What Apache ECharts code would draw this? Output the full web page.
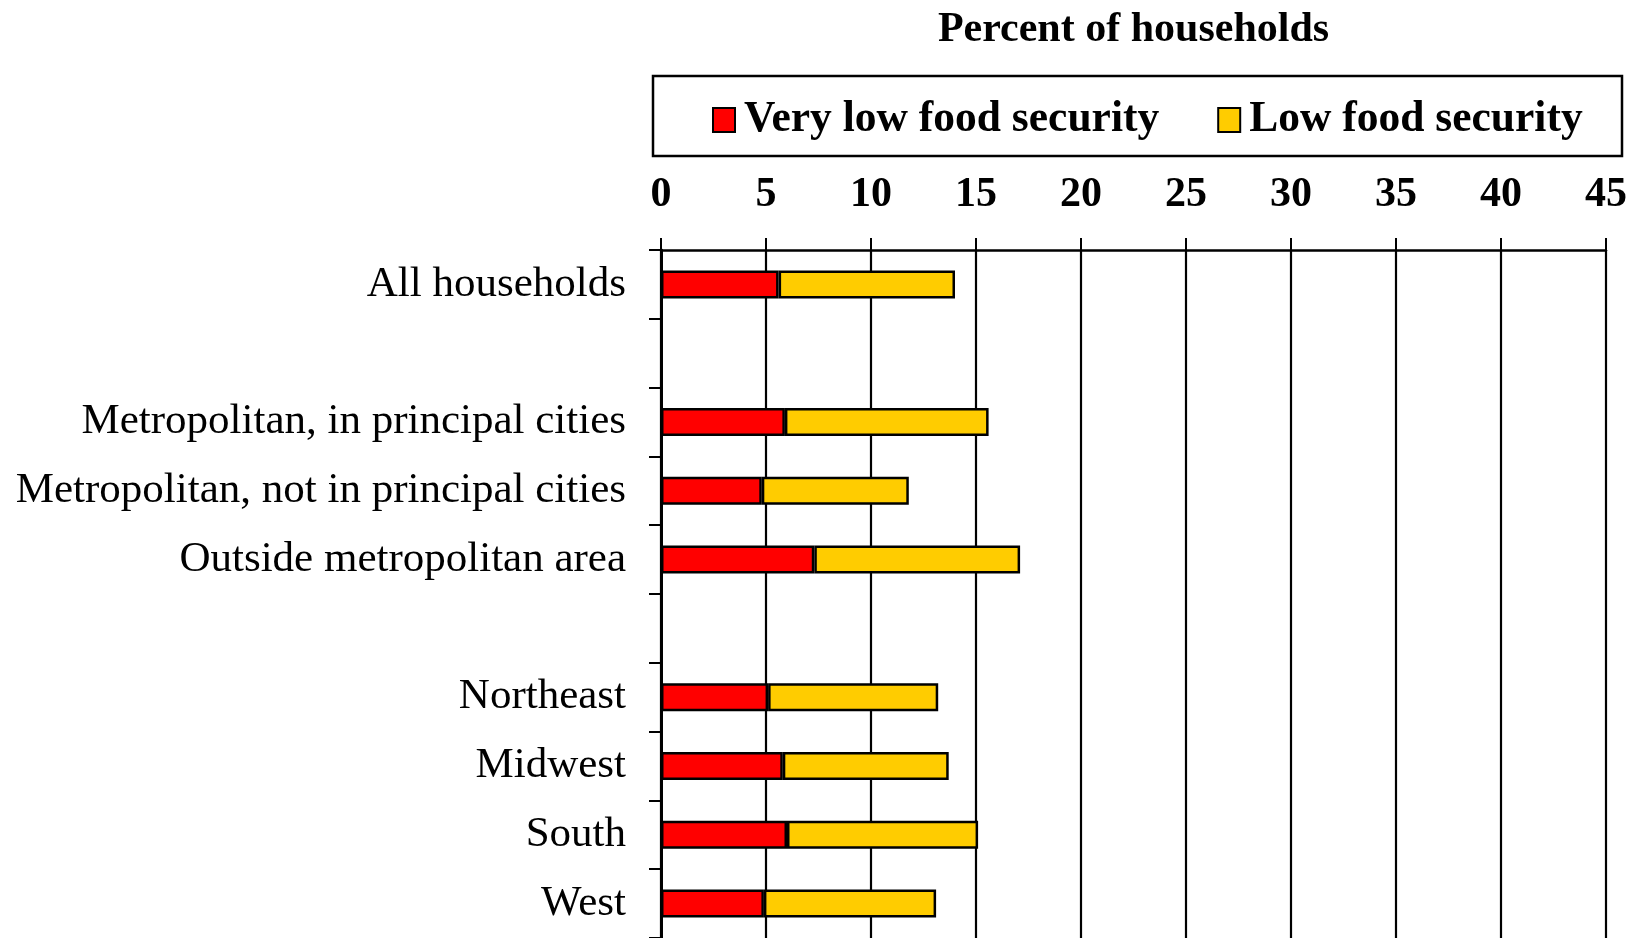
<!DOCTYPE html>
<html>
<head>
<meta charset="utf-8">
<script src="https://cdn.jsdelivr.net/npm/echarts@6/dist/echarts.min.js"></script>
<style>html,body{margin:0;padding:0;background:#fff;}#c{width:1639px;height:938px;}</style>
</head>
<body>
<div id="c"></div>
<script>
const categories = ['All households', ' ', 'Metropolitan, in principal cities', 'Metropolitan, not in principal cities', 'Outside metropolitan area', '  ', 'Northeast', 'Midwest', 'South', 'West'];
const veryLow = [5.6, null, 5.9, 4.8, 7.3, null, 5.1, 5.8, 6.0, 4.9];
const low = [8.4, null, 9.7, 7.0, 9.8, null, 8.1, 7.9, 9.1, 8.2];
const seriesNames = ['Very low food security', 'Low food security'];
const axisTitle = 'Percent of households';

const font = 'Liberation Serif, Times New Roman, serif';
const chart = echarts.init(document.getElementById('c'), null, {renderer: 'canvas'});
chart.setOption({
  animation: false,
  backgroundColor: '#fff',
  graphic: [{
    type: 'rect', z: 0,
    shape: {x: 653, y: 76, width: 969, height: 80},
    style: {fill: 'none', stroke: '#000', lineWidth: 2.5}
  }],
  legend: {
    left: 712, top: 98, padding: 0,
    itemWidth: 22, itemHeight: 24, itemGap: 58,
    icon: 'rect',
    itemStyle: {borderColor: '#000', borderWidth: 2},
    textStyle: {fontFamily: font, fontWeight: 'bold', fontSize: 43.5, color: '#000', padding: [0,0,0,4]},
    data: seriesNames
  },
  grid: {left: 661, right: 33, top: 250, bottom: 0, containLabel: false},
  xAxis: {
    type: 'value', position: 'top', min: 0, max: 45, interval: 5,
    name: axisTitle, nameLocation: 'middle', nameGap: 199,
    nameTextStyle: {fontFamily: font, fontWeight: 'bold', fontSize: 42, color: '#000'},
    axisLine: {show: true, lineStyle: {color: '#000', width: 2.5}},
    axisTick: {show: true, length: 12, lineStyle: {color: '#000', width: 2}},
    splitLine: {show: true, lineStyle: {color: '#000', width: 2.2}},
    axisLabel: {fontFamily: font, fontWeight: 'bold', fontSize: 42, color: '#000', margin: 34}
  },
  yAxis: {
    type: 'category', inverse: true, data: categories,
    axisLine: {show: true, lineStyle: {color: '#000', width: 3}},
    axisTick: {show: true, length: 12, lineStyle: {color: '#000', width: 2}},
    axisLabel: {fontFamily: font, fontSize: 43, color: '#000', margin: 35, padding: [6, 0, 0, 0]}
  },
  series: [
    {name: seriesNames[0], type: 'bar', stack: 'a', data: veryLow, barWidth: 28,
     itemStyle: {color: '#FF0000', borderColor: '#000', borderWidth: 2.5}},
    {name: seriesNames[1], type: 'bar', stack: 'a', data: low, barWidth: 28,
     itemStyle: {color: '#FFCC00', borderColor: '#000', borderWidth: 2.5}}
  ]
});
</script>
</body>
</html>
